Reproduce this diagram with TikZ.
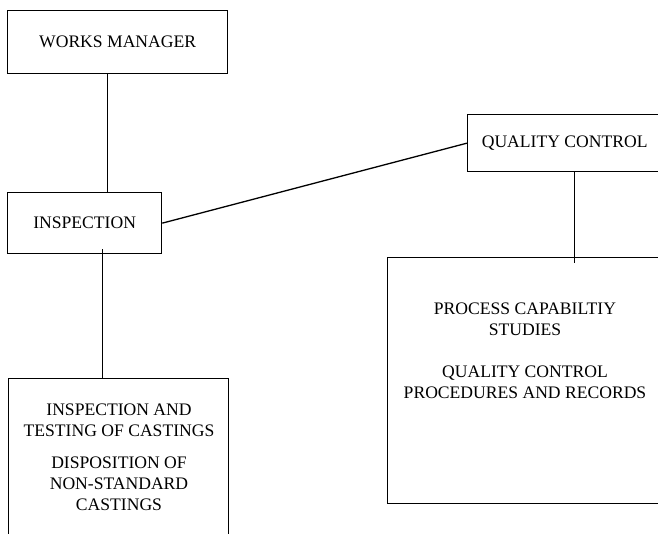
\documentclass[tikz,border=0pt]{standalone}
\usepackage{fontspec}
\setmainfont{Liberation Serif}
\begin{document}
\begin{tikzpicture}[x=1pt,y=-1pt,
  box/.style={draw,line width=1.3pt,inner sep=0,anchor=north west,font=\fontsize{17.6}{21}\selectfont},
  lbl/.style={font=\fontsize{17.6}{21}\selectfont,align=center,inner sep=0,anchor=north},
  conn/.style={line width=1.3pt}]
\useasboundingbox (0,0) rectangle (658,534);
\clip (0,0) rectangle (658,534);
\node[box,minimum width=220pt,minimum height=63pt] (wm) at (7,10) {WORKS MANAGER};
\node[box,minimum width=154pt,minimum height=61pt] (insp) at (7,192) {INSPECTION};
\node[box,minimum width=194pt,minimum height=57pt] (qc) at (467,114) {QUALITY CONTROL};
\node[box,minimum width=276pt,minimum height=246pt] (proc) at (387,257) {};
\node[box,minimum width=220pt,minimum height=200pt] (cast) at (8,378) {};
\node[lbl] (proctext) at (525,303) {PROCESS CAPABILTIY\\STUDIES\\[21pt]QUALITY CONTROL\\PROCEDURES AND RECORDS};
\node[lbl] (casttext) at (119,404) {INSPECTION AND\\TESTING OF CASTINGS\\[11pt]DISPOSITION OF\\NON-STANDARD\\CASTINGS};
\draw[conn] ([xshift=-10pt]wm.south) -- ([xshift=23pt]insp.north);
\draw[conn] ([xshift=18pt,yshift=5pt]insp.south) -- ([xshift=-16pt]cast.north);
\draw[conn] (insp.east) -- (qc.west);
\draw[conn] ([xshift=10pt]qc.south) -- ([xshift=49pt,yshift=-6pt]proc.north);
\end{tikzpicture}
\end{document}
